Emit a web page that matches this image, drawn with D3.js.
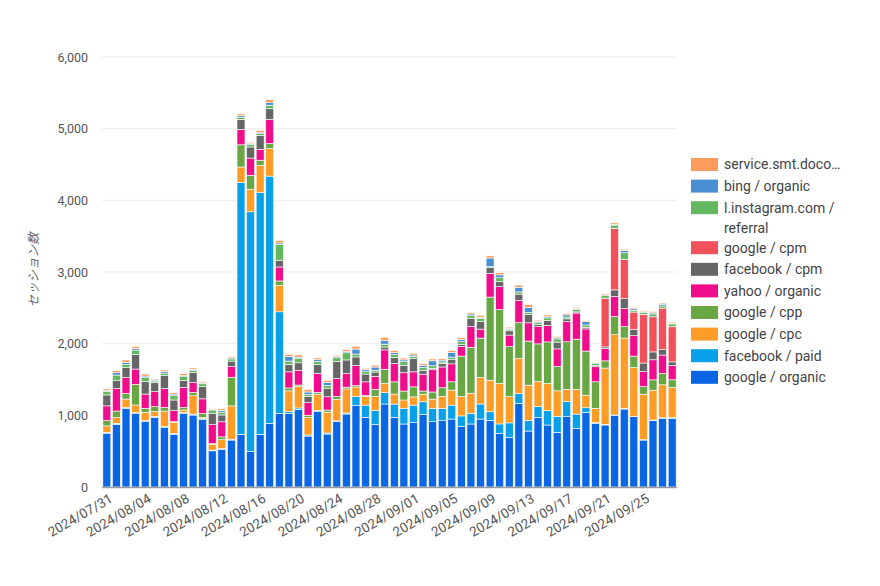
<!DOCTYPE html>
<html><head><meta charset="utf-8">
<script src="https://cdn.jsdelivr.net/npm/d3@7"></script>
<style>body{margin:0;background:#fff;} svg{display:block;font-family:Roboto,"Noto Sans CJK JP",sans-serif;}</style>
</head><body><svg id="c" width="880" height="586"></svg>
<script>
const dates = ["2024/07/31","2024/08/01","2024/08/02","2024/08/03","2024/08/04","2024/08/05","2024/08/06","2024/08/07","2024/08/08","2024/08/09",
"2024/08/10","2024/08/11","2024/08/12","2024/08/13","2024/08/14","2024/08/15","2024/08/16","2024/08/17","2024/08/18","2024/08/19",
"2024/08/20","2024/08/21","2024/08/22","2024/08/23","2024/08/24","2024/08/25","2024/08/26","2024/08/27","2024/08/28","2024/08/29",
"2024/08/30","2024/08/31","2024/09/01","2024/09/02","2024/09/03","2024/09/04","2024/09/05","2024/09/06","2024/09/07","2024/09/08",
"2024/09/09","2024/09/10","2024/09/11","2024/09/12","2024/09/13","2024/09/14","2024/09/15","2024/09/16","2024/09/17","2024/09/18",
"2024/09/19","2024/09/20","2024/09/21","2024/09/22","2024/09/23","2024/09/24","2024/09/25","2024/09/26","2024/09/27","2024/09/28"];
const xTickLabels = ["2024/07/31","2024/08/04","2024/08/08","2024/08/12","2024/08/16","2024/08/20","2024/08/24","2024/08/28","2024/09/01","2024/09/05","2024/09/09","2024/09/13","2024/09/17","2024/09/21","2024/09/25"];
const yTicks = [0,1000,2000,3000,4000,5000,6000];

const googleOrganic = [750,874,1097,1023,911,972,828,735,1023,1004, 940,505,525,655,735,495,735,888,1027,1027, 1083,711,1051,739,911,1018,1135,972,874,1158, 972,879,897,1014,911,925,948,842,879,948, 930,750,690,1167,781,972,865,762,981,818, 1041,888,865,995,1088,981,655,925,958,958];
const facebookPaid = [13,14,14,14,14,14,14,14,14,14, 12,10,10,12,3515,3345,3375,3450,1418,25, 20,15,15,15,12,15,130,170,195,160, 185,220,245,175,185,170,195,150,150,210, 120,130,205,135,150,150,200,225,210,200, 65,10,10,10,10,5,5,10,8,8];
const googleCpc = [90,79,116,107,116,65,218,153,37,256, 18,80,125,465,215,315,380,385,370,290, 300,245,230,290,300,335,130,120,195,130, 140,115,115,105,130,170,210,270,280,370, 440,565,365,490,490,350,380,355,170,345, 175,200,785,1120,980,680,635,415,460,425];
const googleCpp = [74,93,79,288,56,70,51,9,37,46, 55,10,40,400,310,195,70,70,60,40, 20,30,25,30,40,25,20,15,100,195, 170,125,140,45,100,120,115,565,640,550, 1160,1030,700,500,615,525,580,340,665,700, 615,370,100,255,160,160,105,145,160,105];
const yahooOrganic = [205,316,219,214,200,209,265,154,279,135, 205,265,210,150,215,240,150,335,195,225, 205,175,265,185,250,190,280,190,180,270, 255,255,210,235,310,290,250,135,290,125, 330,320,160,310,255,240,230,245,280,365, 310,210,175,280,255,285,210,280,255,200];
const facebookCpm = [153,107,140,204,172,125,177,149,93,140, 170,160,95,75,140,155,195,150,95,105, 105,85,125,120,240,190,120,110,60,40, 85,105,185,55,20,50,65,25,115,105, 80,75,60,90,115,30,70,95,40,15, 20,20,20,90,135,90,120,110,75,50];
const googleCpm = [0,0,0,0,0,0,0,0,0,0, 0,0,0,0,0,0,0,0,0,0, 0,0,0,0,0,0,0,0,0,0, 0,0,0,0,0,0,0,0,0,0, 0,0,0,0,0,0,0,0,0,0, 0,0,680,860,550,240,680,490,580,490];
const instagramReferral = [51,79,46,61,56,24,37,60,56,28, 40,45,40,30,30,35,25,50,220,45, 65,30,40,40,50,100,40,40,25,40, 40,50,30,40,35,20,30,40,35,45, 15,50,20,30,30,25,35,45,25,35, 35,30,35,45,90,25,25,40,30,40];
const bingOrganic = [14,33,28,23,23,14,19,23,19,18, 12,10,25,15,20,15,15,35,20,65, 15,35,25,40,15,20,70,20,45,50, 30,25,20,25,70,25,65,30,25,15, 120,40,15,65,70,20,15,15,30,10, 45,5,10,10,30,20,10,15,25,10];
const serviceSmt = [19,28,33,24,28,14,23,19,23,19, 15,10,20,15,25,15,30,40,35,30, 30,35,25,30,20,25,40,20,25,45, 25,25,25,25,25,20,25,25,20,25, 30,30,15,30,40,15,25,20,20,15, 15,10,15,20,20,15,15,20,15,15];

// stack order bottom -> top
const seriesNames = ["google / organic","facebook / paid","google / cpc","google / cpp","yahoo / organic","facebook / cpm","google / cpm","l.instagram.com / referral","bing / organic","service.smt.doco…"];
const seriesValues = [googleOrganic,facebookPaid,googleCpc,googleCpp,yahooOrganic,facebookCpm,googleCpm,instagramReferral,bingOrganic,serviceSmt];
const seriesColors = ["#0b66e4","#07a0e9","#fd9c26","#69a745","#f00d8b","#666666","#f1515b","#62b75f","#4a8fd1","#fb9c5c"];

const svg = d3.select("#c");
const x = d3.scaleBand().domain(dates).range([102,677]).paddingInner(0.17).paddingOuter(0.09);
const y = d3.scaleLinear().domain([0,6000]).range([487,57]);

// gridlines
svg.append("g").selectAll("line").data(yTicks.filter(d=>d>0)).join("line")
  .attr("x1",102).attr("x2",677).attr("y1",d=>y(d)).attr("y2",d=>y(d))
  .attr("stroke","#ececec").attr("stroke-width",1);

// y axis
const ya = svg.append("g").attr("transform","translate(102,0)")
  .call(d3.axisLeft(y).tickValues(yTicks).tickFormat(d3.format(",")).tickSize(0).tickPadding(14));
ya.select(".domain").remove();
ya.selectAll("text").attr("fill","#555").style("font-size","12.5px").style("font-family","Roboto");

// stacked data
const rows = dates.map((d,i)=>{const o={date:d}; seriesNames.forEach((s,k)=>o[s]=seriesValues[k][i]); return o;});
const stacked = d3.stack().keys(seriesNames)(rows);

const g = svg.append("g");
g.selectAll("g").data(stacked).join("g").attr("fill",(d,i)=>seriesColors[i])
  .selectAll("rect").data(d=>d.filter(p=>p[1]-p[0]>0)).join("rect")
  .attr("x",d=>x(d.data.date)).attr("width",x.bandwidth())
  .attr("y",d=>y(d[1])).attr("height",d=>y(d[0])-y(d[1]))
  .attr("stroke","#fff").attr("stroke-width",0.6);

// baseline
svg.append("line").attr("x1",102).attr("x2",677).attr("y1",y(0)+0.5).attr("y2",y(0)+0.5)
  .attr("stroke","#9a9a9a").attr("stroke-width",1.5);

// x labels
svg.append("g").selectAll("text").data(xTickLabels).join("text")
  .attr("transform",d=>`translate(${x(d)+x.bandwidth()/2+2},${493}) rotate(-30)`)
  .attr("text-anchor","end").attr("dy","0.71em")
  .attr("fill","#555").style("font-size","13.5px").text(d=>d);

// y axis title
svg.append("text").attr("transform","translate(38,270) rotate(-90)")
  .attr("text-anchor","middle").attr("fill","#666").style("font-size","12.5px").style("font-style","italic")
  .text("セッション数");

// legend (top -> bottom, reversed stack order)
const legendItems = [
  {k:9, lines:["service.smt.doco…"]},
  {k:8, lines:["bing / organic"]},
  {k:7, lines:["l.instagram.com /","referral"]},
  {k:6, lines:["google / cpm"]},
  {k:5, lines:["facebook / cpm"]},
  {k:4, lines:["yahoo / organic"]},
  {k:3, lines:["google / cpp"]},
  {k:2, lines:["google / cpc"]},
  {k:1, lines:["facebook / paid"]},
  {k:0, lines:["google / organic"]}
];
let ly = 164.5;
const lg = svg.append("g");
legendItems.forEach(it=>{
  lg.append("rect").attr("x",691).attr("y",ly-6.5).attr("width",27).attr("height",13).attr("fill",seriesColors[it.k]);
  it.lines.forEach((t,j)=>{
    lg.append("text").attr("x",724).attr("y",ly+j*20).attr("dy","0.35em").attr("fill","#444")
      .style("font-size","14px").text(t);
  });
  ly += it.lines.length === 1 ? 21.6 : 40;
});
</script></body></html>
